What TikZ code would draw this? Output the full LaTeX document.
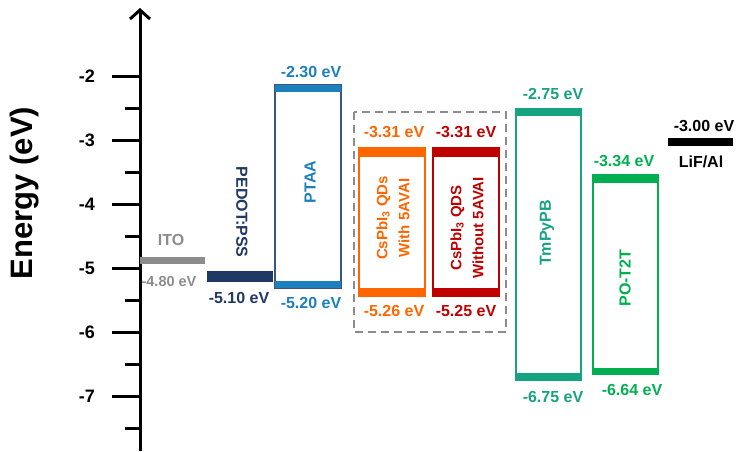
\documentclass[tikz,border=0pt]{standalone}
\usepackage{fontspec}
\setmainfont{Liberation Sans}
\usepackage{tikz}
\usetikzlibrary{arrows.meta, calc}
\definecolor{itogray}{HTML}{8C8C8C}
\definecolor{pedotblue}{HTML}{1F3864}
\definecolor{ptaablue}{HTML}{1C7FBE}
\definecolor{ptaaedge}{HTML}{3B5580}
\definecolor{qdorange}{HTML}{FF6600}
\definecolor{qdred}{HTML}{C00000}
\definecolor{tmteal}{HTML}{16A382}
\definecolor{potgreen}{HTML}{00B050}

\begin{document}
\begin{tikzpicture}[x=1pt,y=-1pt,
    txt/.style={font=\fontsize{16}{18}\selectfont\bfseries, inner sep=0pt},
    qdtxt/.style={font=\fontsize{15}{22}\selectfont\bfseries, inner sep=0pt, align=center, rotate=90},
    edge/.style={line width=1.3pt}]
        \useasboundingbox (0,0) rectangle (738,451);
        \draw[line width=3pt, -{Straight Barb[length=9pt,width=20pt]}] (140,451) -- (140,8);
        \foreach \e in {2,...,7} {
            \draw[line width=3pt] (112,{76+(\e-2)*64}) -- (140,{76+(\e-2)*64});
            \draw[line width=3pt] (125,{108+(\e-2)*64}) -- (140,{108+(\e-2)*64});
            \node[txt, font=\fontsize{18}{20}\selectfont\bfseries, anchor=east] (t\e) at (95,{76+(\e-2)*64}) {-\e};
        }
        \node[font=\fontsize{31}{34}\selectfont\bfseries, rotate=90, inner sep=0pt] (en) at (25,193) {Energy (eV)};

        \fill[itogray] (140,257) rectangle (205,264);
        \node[txt, text=itogray] (ito) at (171,240) {ITO};
        \node[txt, font=\fontsize{14.5}{16}\selectfont\bfseries, text=itogray] (itoe) at (169,281) {-4.80 eV};

        \fill[pedotblue] (207,271) rectangle (273,282);
        \node[txt, text=pedotblue, rotate=-90] (pedot) at (242,212) {PEDOT:PSS};
        \node[txt, text=pedotblue] (pedote) at (239,298) {-5.10 eV};

        \draw[edge, ptaaedge] (275,85) rectangle (341,288);
        \fill[ptaablue] (275,85) rectangle (341,92); \fill[ptaablue] (275,281) rectangle (341,288);
        \node[txt, text=ptaablue, rotate=90] (ptaa) at (310,182) {PTAA};
        \node[txt, text=ptaablue] (ptaat) at (311,72) {-2.30 eV};
        \node[txt, text=ptaablue] (ptaab) at (311,303) {-5.20 eV};

        \draw[line width=2.2pt, itogray, dash pattern=on 8pt off 5pt] (354,112) rectangle (506,332);

        \draw[edge, qdorange] (359,148) rectangle (425,296);
        \fill[qdorange] (359,148) rectangle (425,157); \fill[qdorange] (359,288) rectangle (425,296);
        \node[qdtxt, text=qdorange] (qdw) at (393,218) {CsPbI\textsubscript{3} QDs\\With 5AVAI};
        \node[txt, text=qdorange] (qdwt) at (394,132) {-3.31 eV};
        \node[txt, text=qdorange] (qdwb) at (394,311) {-5.26 eV};

        \draw[edge, qdred] (433,148) rectangle (499,296);
        \fill[qdred] (433,148) rectangle (499,157); \fill[qdred] (433,288) rectangle (499,296);
        \node[qdtxt, text=qdred] (qdo) at (467,228) {CsPbI\textsubscript{3} QDS\\Without 5AVAI};
        \node[txt, text=qdred] (qdot) at (466,132) {-3.31 eV};
        \node[txt, text=qdred] (qdob) at (466,311) {-5.25 eV};

        \draw[edge, tmteal] (516,109) rectangle (581,380);
        \fill[tmteal] (516,109) rectangle (581,116); \fill[tmteal] (516,373) rectangle (581,380);
        \node[txt, text=tmteal, rotate=90] (tm) at (547,233) {TmPyPB};
        \node[txt, text=tmteal] (tmt) at (553,94) {-2.75 eV};
        \node[txt, text=tmteal] (tmb) at (553,397) {-6.75 eV};

        \draw[edge, potgreen] (593,175) rectangle (658,374);
        \fill[potgreen] (593,175) rectangle (658,183); \fill[potgreen] (593,368) rectangle (658,374);
        \node[txt, text=potgreen, rotate=90] (pot) at (625,278) {PO-T2T};
        \node[txt, text=potgreen] (pott) at (624,161) {-3.34 eV};
        \node[txt, text=potgreen] (potb) at (632,390) {-6.64 eV};

        \fill[black] (668,138) rectangle (733,146);
        \node[txt] (lift) at (704,126) {-3.00 eV};
        \node[txt] (lif) at (701,162) {LiF/Al};
\end{tikzpicture}
\end{document}
